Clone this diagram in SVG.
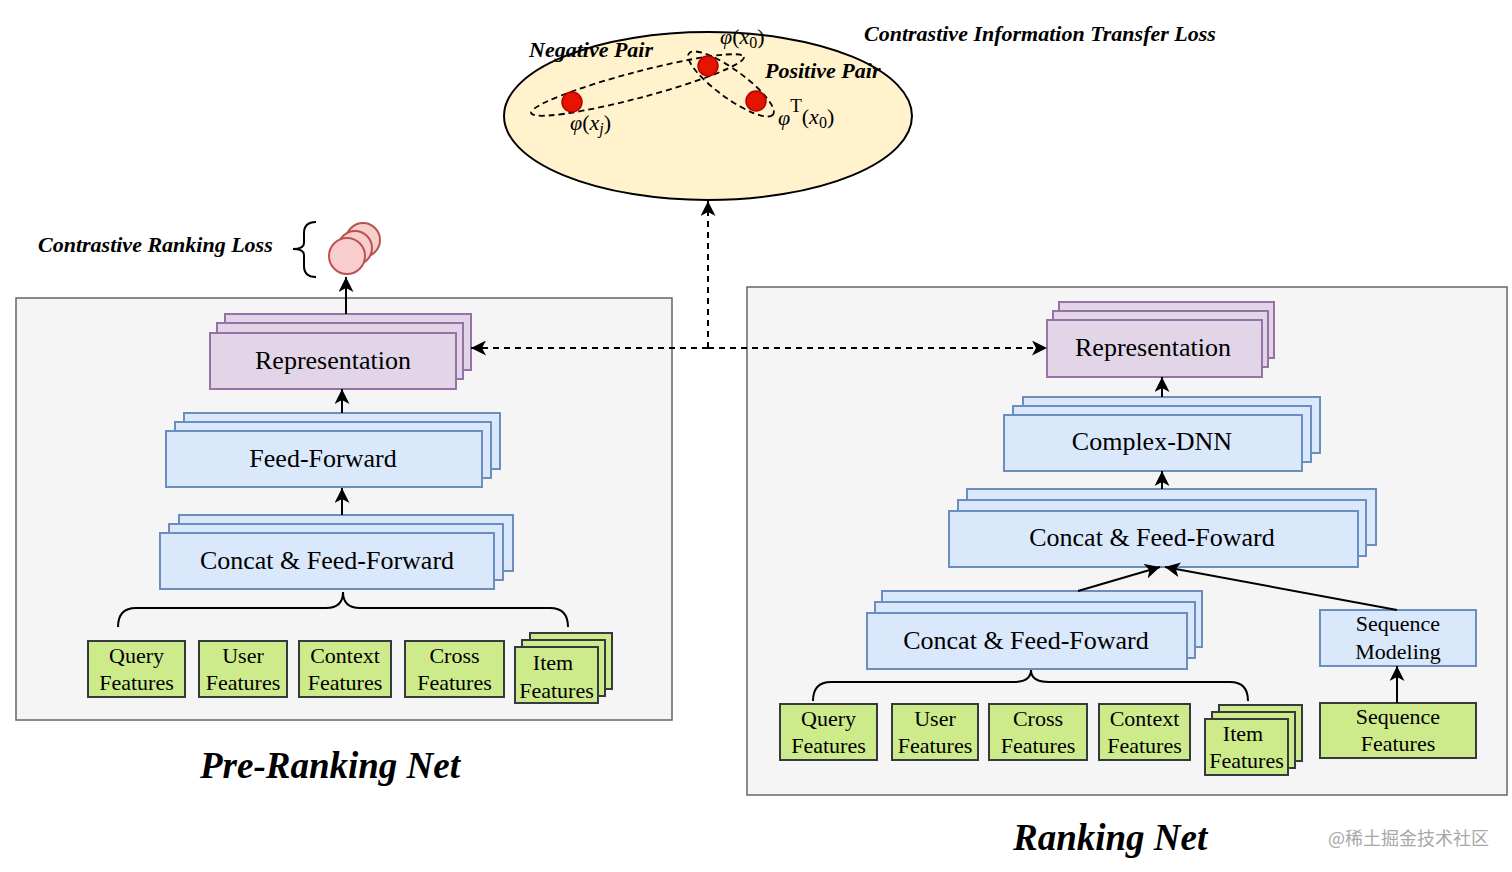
<svg xmlns="http://www.w3.org/2000/svg" width="1512" height="872" viewBox="0 0 1512 872">
<style>
.panel{fill:#f5f5f5;stroke:#666666;stroke-width:1.5}
.purple{fill:#e1d5e7;stroke:#9673a6;stroke-width:2}
.blue{fill:#dae8fc;stroke:#6c8ebf;stroke-width:2}
.green{fill:#cdeb8b;stroke:#36393d;stroke-width:2}
.pink{fill:#f8cecc;stroke:#b85450;stroke-width:2}
.dot{fill:#e51400;stroke:#b20000;stroke-width:1.5}
.t{font-family:"Liberation Serif","Times New Roman",serif;fill:#000;text-anchor:middle}
.n26{font-size:26px}
.f22{font-size:22px}
.bi{font-family:"Liberation Serif","Times New Roman",serif;font-weight:bold;font-style:italic;fill:#000}
.m{font-family:"Liberation Serif","Times New Roman",serif;fill:#000;font-size:22px}
.line{fill:none;stroke:#000;stroke-width:2}
.dash{fill:none;stroke:#000;stroke-width:2;stroke-dasharray:6 5}
.loop{fill:none;stroke:#000;stroke-width:1.8;stroke-dasharray:6 4}
</style>
<defs>
<marker id="arr" markerUnits="userSpaceOnUse" markerWidth="16" markerHeight="15" refX="15" refY="7.5" orient="auto">
<path d="M0,0 L15,7.5 L0,15 L4,7.5 Z" fill="#000" stroke="none"/>
</marker>
</defs>

<!-- panels -->
<g id="pre-ranking-panel"><rect class="panel" x="16" y="298" width="656" height="422"/></g>
<g id="ranking-panel"><rect class="panel" x="747" y="287" width="760" height="508"/></g>

<!-- embedding space -->
<g id="embedding-space">
<ellipse cx="708" cy="116" rx="204" ry="84" fill="#fff2cc" stroke="#000" stroke-width="2"/>
<ellipse class="loop" cx="637.5" cy="85" rx="110" ry="13" transform="rotate(-14.8 637.5 85)"/>
<ellipse class="loop" cx="731" cy="84" rx="52" ry="14" transform="rotate(36 731 84)"/>
<circle class="dot" cx="572" cy="102" r="10"/>
<circle class="dot" cx="708" cy="66" r="10"/>
<circle class="dot" cx="756" cy="101" r="10"/>
<text class="bi" x="529" y="57" font-size="22">Negative Pair</text>
<text class="bi" x="765" y="78" font-size="22">Positive Pair</text>
<text class="m" x="720" y="44"><tspan font-style="italic">φ</tspan>(<tspan font-style="italic">x</tspan><tspan font-size="16" dy="4">0</tspan><tspan dy="-4">)</tspan></text>
<text class="m" x="570" y="130"><tspan font-style="italic">φ</tspan>(<tspan font-style="italic">x</tspan><tspan font-size="16" font-style="italic" dy="4">j</tspan><tspan dy="-4">)</tspan></text>
<text class="m" x="778" y="125"><tspan font-style="italic">φ</tspan><tspan font-size="19" dy="-13">T</tspan><tspan dy="12">(</tspan><tspan font-style="italic">x</tspan><tspan font-size="16" dy="4">0</tspan><tspan dy="-4">)</tspan></text>
</g>
<g id="title-cit"><text class="bi" x="864" y="41" font-size="22">Contrastive Information Transfer Loss</text></g>

<!-- contrastive ranking loss -->
<g id="contrastive-ranking-loss">
<text class="bi" x="38" y="252" font-size="22">Contrastive Ranking Loss</text>
<path class="line" stroke-width="1.8" d="M316,222 Q304,222 304,233 L304,243 Q304,249 293,249 Q304,249 304,255 L304,266 Q304,277 316,277"/>
<circle class="pink" cx="363" cy="240" r="17"/>
<circle class="pink" cx="355" cy="248" r="17"/>
<circle class="pink" cx="347" cy="256" r="18"/>
</g>

<!-- left nodes -->
<g id="left-representation">
<rect class="purple" x="225" y="314" width="246" height="56"/>
<rect class="purple" x="217" y="323" width="246" height="56"/>
<rect class="purple" x="210" y="333" width="246" height="56"/>
<text class="t n26" x="333" y="369">Representation</text>
</g>
<g id="left-feed-forward">
<rect class="blue" x="184" y="413" width="316" height="56"/>
<rect class="blue" x="175" y="422" width="316" height="56"/>
<rect class="blue" x="166" y="431" width="316" height="56"/>
<text class="t n26" x="323" y="467">Feed-Forward</text>
</g>
<g id="left-concat">
<rect class="blue" x="179" y="515" width="334" height="56"/>
<rect class="blue" x="169" y="524" width="334" height="56"/>
<rect class="blue" x="160" y="533" width="334" height="56"/>
<text class="t n26" x="327" y="569">Concat &amp; Feed-Forward</text>
</g>
<g id="left-query"><rect class="green" x="88" y="641" width="97" height="56"/><text class="t f22" x="136.5" y="663">Query</text><text class="t f22" x="136.5" y="690">Features</text></g>
<g id="left-user"><rect class="green" x="199" y="641" width="88" height="56"/><text class="t f22" x="243" y="663">User</text><text class="t f22" x="243" y="690">Features</text></g>
<g id="left-context"><rect class="green" x="299" y="641" width="92" height="56"/><text class="t f22" x="345" y="663">Context</text><text class="t f22" x="345" y="690">Features</text></g>
<g id="left-cross"><rect class="green" x="405" y="641" width="99" height="56"/><text class="t f22" x="454.5" y="663">Cross</text><text class="t f22" x="454.5" y="690">Features</text></g>
<g id="left-item">
<rect class="green" x="530" y="633" width="82" height="56"/>
<rect class="green" x="522" y="640" width="83" height="56"/>
<rect class="green" x="515" y="647" width="83" height="56"/>
<text class="t f22" x="553" y="670">Item</text><text class="t f22" x="556.5" y="698">Features</text>
</g>
<g id="title-pre"><text class="bi" x="200" y="778" font-size="37">Pre-Ranking Net</text></g>

<!-- right nodes -->
<g id="right-representation">
<rect class="purple" x="1059" y="302" width="215" height="56"/>
<rect class="purple" x="1053" y="311" width="215" height="56"/>
<rect class="purple" x="1047" y="320" width="215" height="57"/>
<text class="t n26" x="1153" y="356">Representation</text>
</g>
<g id="complex-dnn">
<rect class="blue" x="1023" y="397" width="297" height="56"/>
<rect class="blue" x="1013" y="406" width="298" height="56"/>
<rect class="blue" x="1004" y="415" width="298" height="56"/>
<text class="t n26" x="1152" y="450">Complex-DNN</text>
</g>
<g id="right-concat-upper">
<rect class="blue" x="967" y="489" width="409" height="56"/>
<rect class="blue" x="958" y="500" width="408" height="56"/>
<rect class="blue" x="949" y="511" width="409" height="56"/>
<text class="t n26" x="1152" y="546">Concat &amp; Feed-Foward</text>
</g>
<g id="right-concat-lower">
<rect class="blue" x="882" y="591" width="320" height="56"/>
<rect class="blue" x="875" y="602" width="320" height="56"/>
<rect class="blue" x="867" y="613" width="320" height="56"/>
<text class="t n26" x="1026" y="649">Concat &amp; Feed-Foward</text>
</g>
<g id="sequence-modeling"><rect class="blue" x="1320" y="610" width="156" height="56"/><text class="t f22" x="1398" y="631">Sequence</text><text class="t f22" x="1398" y="659">Modeling</text></g>
<g id="right-query"><rect class="green" x="780" y="704" width="97" height="56"/><text class="t f22" x="828.5" y="726">Query</text><text class="t f22" x="828.5" y="753">Features</text></g>
<g id="right-user"><rect class="green" x="892" y="704" width="86" height="56"/><text class="t f22" x="935" y="726">User</text><text class="t f22" x="935" y="753">Features</text></g>
<g id="right-cross"><rect class="green" x="989" y="704" width="98" height="56"/><text class="t f22" x="1038" y="726">Cross</text><text class="t f22" x="1038" y="753">Features</text></g>
<g id="right-context"><rect class="green" x="1099" y="704" width="91" height="56"/><text class="t f22" x="1144.5" y="726">Context</text><text class="t f22" x="1144.5" y="753">Features</text></g>
<g id="right-item">
<rect class="green" x="1219" y="705" width="83" height="56"/>
<rect class="green" x="1212" y="712" width="83" height="56"/>
<rect class="green" x="1205" y="719" width="83" height="56"/>
<text class="t f22" x="1243" y="741">Item</text><text class="t f22" x="1246.5" y="768">Features</text>
</g>
<g id="sequence-features"><rect class="green" x="1320" y="703" width="156" height="55"/><text class="t f22" x="1398" y="724">Sequence</text><text class="t f22" x="1398" y="751">Features</text></g>
<g id="title-ranking"><text class="bi" x="1013" y="850" font-size="37">Ranking Net</text></g>

<!-- connectors -->
<g id="connectors">
<line class="line" x1="346" y1="314" x2="346" y2="277" marker-end="url(#arr)"/>
<line class="line" x1="342" y1="413" x2="342" y2="389" marker-end="url(#arr)"/>
<line class="line" x1="342" y1="515" x2="342" y2="488" marker-end="url(#arr)"/>
<path class="line" d="M118,627 Q118,608 136,608 L326,608 Q343,608 343,592 Q343,608 360,608 L550,608 Q568,608 568,627"/>
<line class="dash" x1="708" y1="348" x2="471" y2="348" marker-end="url(#arr)"/>
<line class="dash" x1="708" y1="348" x2="1047" y2="348" marker-end="url(#arr)"/>
<line class="dash" x1="708" y1="348" x2="708" y2="201" marker-end="url(#arr)"/>
<line class="line" x1="1162" y1="397" x2="1162" y2="377" marker-end="url(#arr)"/>
<line class="line" x1="1162" y1="489" x2="1162" y2="471" marker-end="url(#arr)"/>
<line class="line" x1="1078" y1="591" x2="1160" y2="567" marker-end="url(#arr)"/>
<line class="line" x1="1397" y1="610" x2="1165" y2="567" marker-end="url(#arr)"/>
<line class="line" x1="1397" y1="703" x2="1397" y2="666" marker-end="url(#arr)"/>
<path class="line" d="M813,701 Q813,682 831,682 L1013,682 Q1031,682 1031,670 Q1031,682 1049,682 L1230,682 Q1248,682 1248,701"/>
</g>

<g id="watermark"><text x="1328" y="845" font-family="'Noto Sans CJK SC','Noto Sans',sans-serif" font-size="18" fill="#a8a8a8">@稀土掘金技术社区</text></g>
</svg>
